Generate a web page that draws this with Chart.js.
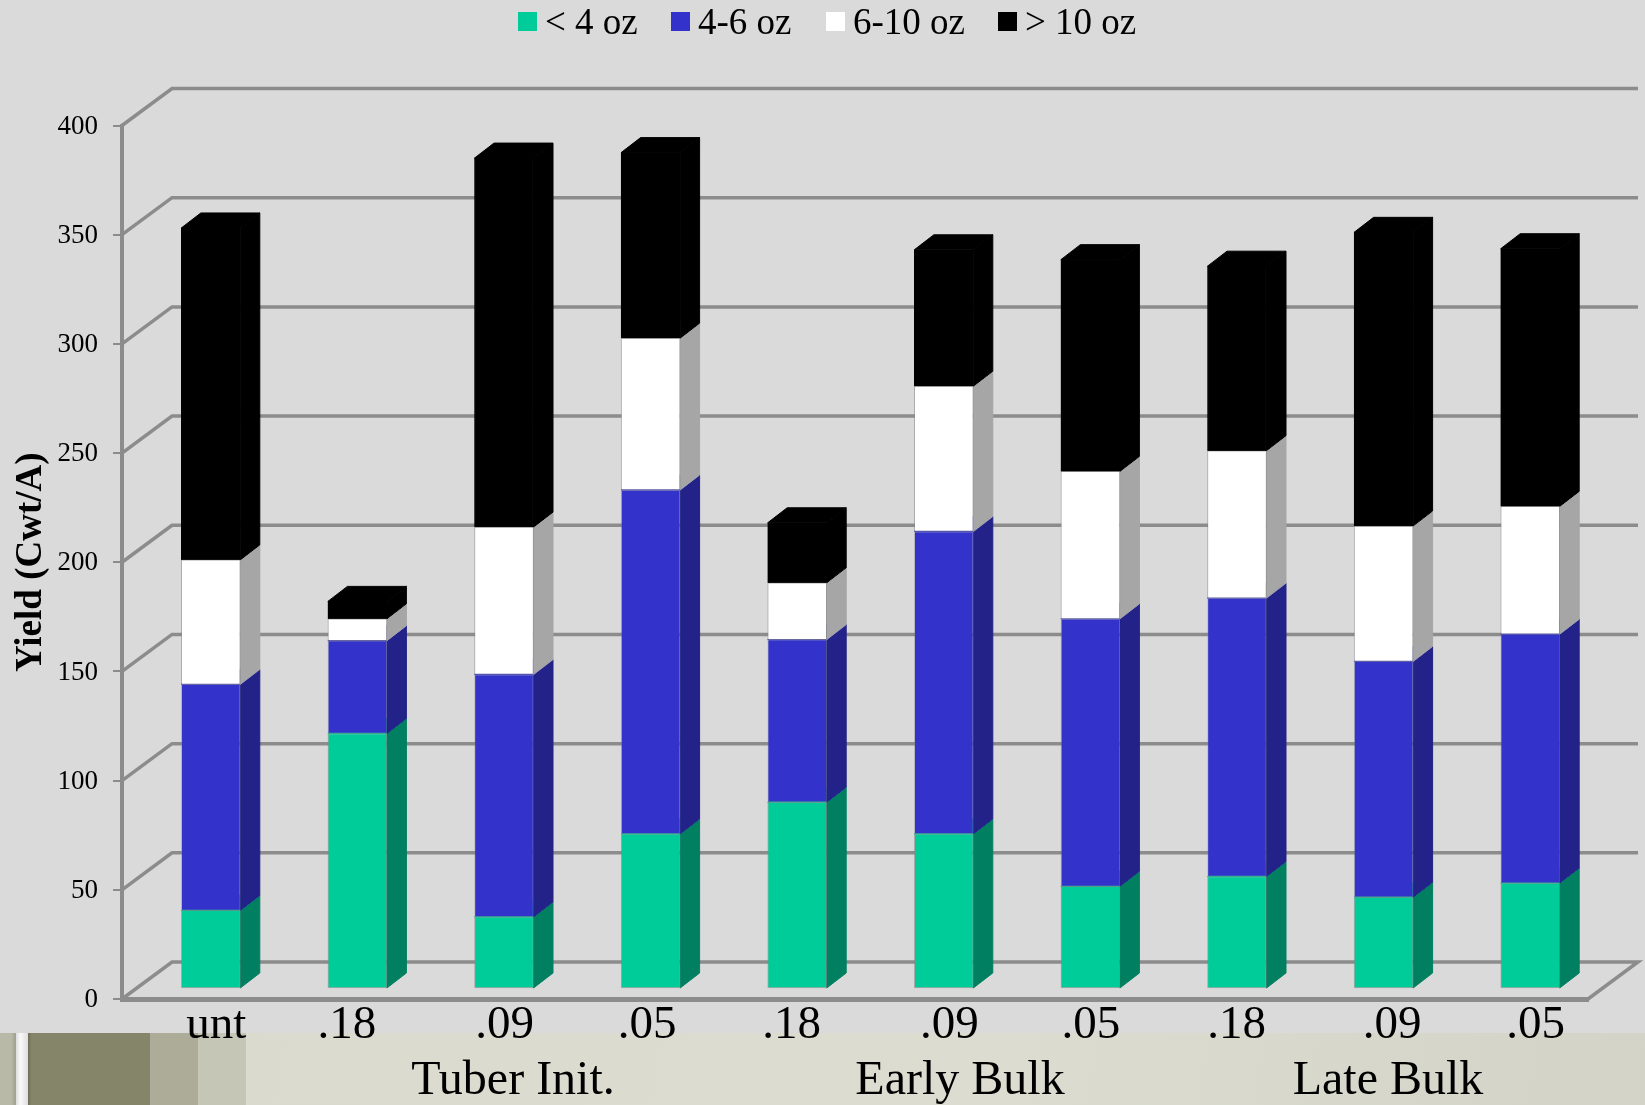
<!DOCTYPE html>
<html>
<head>
<meta charset="utf-8">
<title>Yield by tuber size</title>
<script src="https://cdn.jsdelivr.net/npm/chart.js@4/dist/chart.umd.min.js"></script>
<style>
  html, body { margin: 0; padding: 0; width: 1645px; height: 1105px; overflow: hidden; background: #dadada; }
  #band { position: absolute; left: 0; top: 1033px; width: 1645px; height: 72px;
          background: linear-gradient(100deg, #dadbce 0%, #dcddd0 60%, #d3d3c8 100%); }
  .stripe { position: absolute; top: 0; height: 72px; }
  canvas { position: absolute; left: 0; top: 0; }
  #legend { position: absolute; top: 0; left: 0; width: 1645px; height: 44px;
            font-family: "Liberation Serif", serif; font-size: 37px; color: #000; }
  .key { position: absolute; top: 12px; width: 19px; height: 19px; }
  .keyText { position: absolute; top: 0; line-height: 44px; white-space: nowrap; }
  .group { position: absolute; top: 1052px; line-height: 52px; font-family: "Liberation Serif", serif;
           font-size: 48px; color: #000; transform: translateX(-50%); white-space: nowrap; }
</style>
</head>
<body>
<div id="band">
  <div class="stripe" style="left:0;width:16px;background:linear-gradient(90deg,#b9b9a8 70%,#a0a090)"></div>
  <div class="stripe" style="left:16px;width:12px;background:linear-gradient(90deg,#dcdcdc,#fafafa 35%,#dedede)"></div>
  <div class="stripe" style="left:28px;width:122px;background:linear-gradient(90deg,#6f6f58,#85856a 3%)"></div>
  <div class="stripe" style="left:150px;width:48px;background:#acac98"></div>
  <div class="stripe" style="left:198px;width:48px;background:#c5c6b6"></div>
</div>
<canvas id="chart" width="1645" height="1105"></canvas>
<div id="legend"></div>
<div class="group" style="left:513px">Tuber Init.</div>
<div class="group" style="left:960px">Early Bulk</div>
<div class="group" style="left:1388px">Late Bulk</div>

<script>
// Yield (Cwt/A) per size class for each fungicide rate and timing.
const categories = ['unt', '.18', '.09', '.05', '.18', '.09', '.05', '.18', '.09', '.05'];
const under4oz   = [36, 117, 33, 71, 85.5, 71, 47, 51.5, 42, 48.5];
const from4to6oz = [103.5, 42.5, 111, 157.5, 74.5, 138.5, 122.5, 127.5, 108, 114];
const from6to10oz = [57, 10, 67.5, 69.5, 26, 66.5, 67.5, 67.5, 62, 58.5];
const over10oz   = [152, 8, 169, 85, 27.5, 62.5, 97, 84.5, 134.5, 118];

const seriesNames = ['< 4 oz', '4-6 oz', '6-10 oz', '> 10 oz'];
const frontColors = ['#00cc99', '#3333cc', '#ffffff', '#000000'];
const sideColors  = ['#008060', '#222288', '#a6a6a6', '#000000'];
const edgeColors  = ['rgba(130,130,130,0.55)', 'rgba(130,130,130,0.35)', 'rgba(130,130,130,0.55)', '#000000'];
const yTicks = [0, 50, 100, 150, 200, 250, 300, 350, 400];

// Offsets of the 3D box: wall depth, where the bars sit in that depth.
const wallDx = 50, wallDy = -37;
const barOffsetX = 15.5, barOffsetY = -10;
const barDx = 19.5, barDy = -15;
const lineColor = '#8c8c8c';

// Hand-set nudges of the category captions relative to their bars.
const captionNudge = [21, 5, 16, 12, 10, 21, 16, 15, 24, 21];

const box3d = {
  id: 'box3d',
  afterUpdate(chart) {
    // Shift the axis captions once per layout.
    chart.scales.x.getLabelItems().forEach((item, i) => {
      item.options.translation[0] += captionNudge[i] || 0;
    });
    chart.scales.y.getLabelItems().forEach(item => {
      item.options.translation[1] += 1;
    });
  },
  beforeDatasetsDraw(chart) {
    const { ctx, scales: { x, y } } = chart;
    const left = x.left, right = x.right;
    ctx.save();
    ctx.strokeStyle = lineColor;
    ctx.lineWidth = 3.5;
    // Back wall rules and the diagonals joining them to the axis.
    yTicks.forEach(v => {
      const py = y.getPixelForValue(v);
      ctx.beginPath();
      ctx.moveTo(left, py);
      ctx.lineTo(left + wallDx, py + wallDy);
      ctx.lineTo(right + wallDx, py + wallDy);
      if (v === 0) ctx.lineTo(right, py);
      ctx.stroke();
    });
    ctx.restore();

    // Side and top faces of each stacked segment, back to front.
    ctx.save();
    ctx.lineWidth = 1;
    chart.data.datasets.forEach((ds, d) => {
      chart.getDatasetMeta(d).data.forEach(bar => {
        const r = bar.x + bar.width / 2 + barOffsetX;
        const l = r - bar.width;
        const top = bar.y + barOffsetY;
        const bottom = bar.base + barOffsetY;
        ctx.fillStyle = ctx.strokeStyle = sideColors[d];
        ctx.beginPath();
        ctx.moveTo(r, bottom);
        ctx.lineTo(r + barDx, bottom + barDy);
        ctx.lineTo(r + barDx, top + barDy);
        ctx.lineTo(r, top);
        ctx.closePath();
        ctx.fill();
        ctx.stroke();
        ctx.fillStyle = ctx.strokeStyle = frontColors[d];
        ctx.beginPath();
        ctx.moveTo(l, top);
        ctx.lineTo(l + barDx, top + barDy);
        ctx.lineTo(r + barDx, top + barDy);
        ctx.lineTo(r, top);
        ctx.closePath();
        ctx.fill();
        ctx.stroke();
      });
    });
    ctx.restore();

    // Front faces are drawn by the bar controller, moved into the box depth.
    ctx.save();
    ctx.translate(barOffsetX, barOffsetY);
  },
  afterDatasetsDraw(chart) {
    chart.ctx.restore();
  }
};

const serif = 'Liberation Serif';
const values = [under4oz, from4to6oz, from6to10oz, over10oz];

const chart = new Chart(document.getElementById('chart'), {
  type: 'bar',
  plugins: [box3d],
  data: {
    labels: categories,
    datasets: seriesNames.map((name, i) => ({
      label: name,
      data: values[i],
      backgroundColor: frontColors[i],
      borderColor: edgeColors[i],
      borderWidth: 1,
      borderSkipped: false,
      barThickness: 59,
      clip: false
    }))
  },
  options: {
    responsive: false,
    animation: false,
    events: [],
    layout: { padding: { top: 125.5, right: 57, left: 0, bottom: 0 } },
    plugins: { legend: { display: false }, tooltip: { enabled: false }, title: { display: false } },
    scales: {
      x: {
        stacked: true,
        grid: { display: false, drawTicks: false },
        border: { display: true, color: lineColor, width: 5 },
        ticks: {
          color: '#000', padding: -2, maxRotation: 0, autoSkip: false,
          font: { family: serif, size: 47 }
        },
        afterFit(scale) { scale.height = 106; }
      },
      y: {
        stacked: true,
        min: 0, max: 400,
        afterBuildTicks(scale) { scale.ticks = yTicks.map(value => ({ value })); },
        grid: { drawOnChartArea: false, drawTicks: true, tickLength: 9, color: lineColor, lineWidth: 2 },
        border: { display: true, color: lineColor, width: 4 },
        ticks: {
          color: '#000', padding: 15,
          font: { family: serif, size: 27 }
        },
        title: {
          display: true, text: 'Yield (Cwt/A)', color: '#000',
          font: { family: serif, size: 37, weight: 'bold' },
          padding: { top: 9, bottom: 0 }
        },
        afterFit(scale) { scale.width = 122; }
      }
    }
  }
});

// Legend entries are read back from the chart's own datasets.
const legendX = [518, 671, 826, 998];
const legendTextX = [545, 698, 853, 1025];
const legend = document.getElementById('legend');
chart.data.datasets.forEach((ds, i) => {
  const key = document.createElement('div');
  key.className = 'key';
  key.style.left = legendX[i] + 'px';
  key.style.background = ds.backgroundColor;
  const text = document.createElement('div');
  text.className = 'keyText';
  text.style.left = legendTextX[i] + 'px';
  text.textContent = ds.label;
  legend.append(key, text);
});
</script>
</body>
</html>
